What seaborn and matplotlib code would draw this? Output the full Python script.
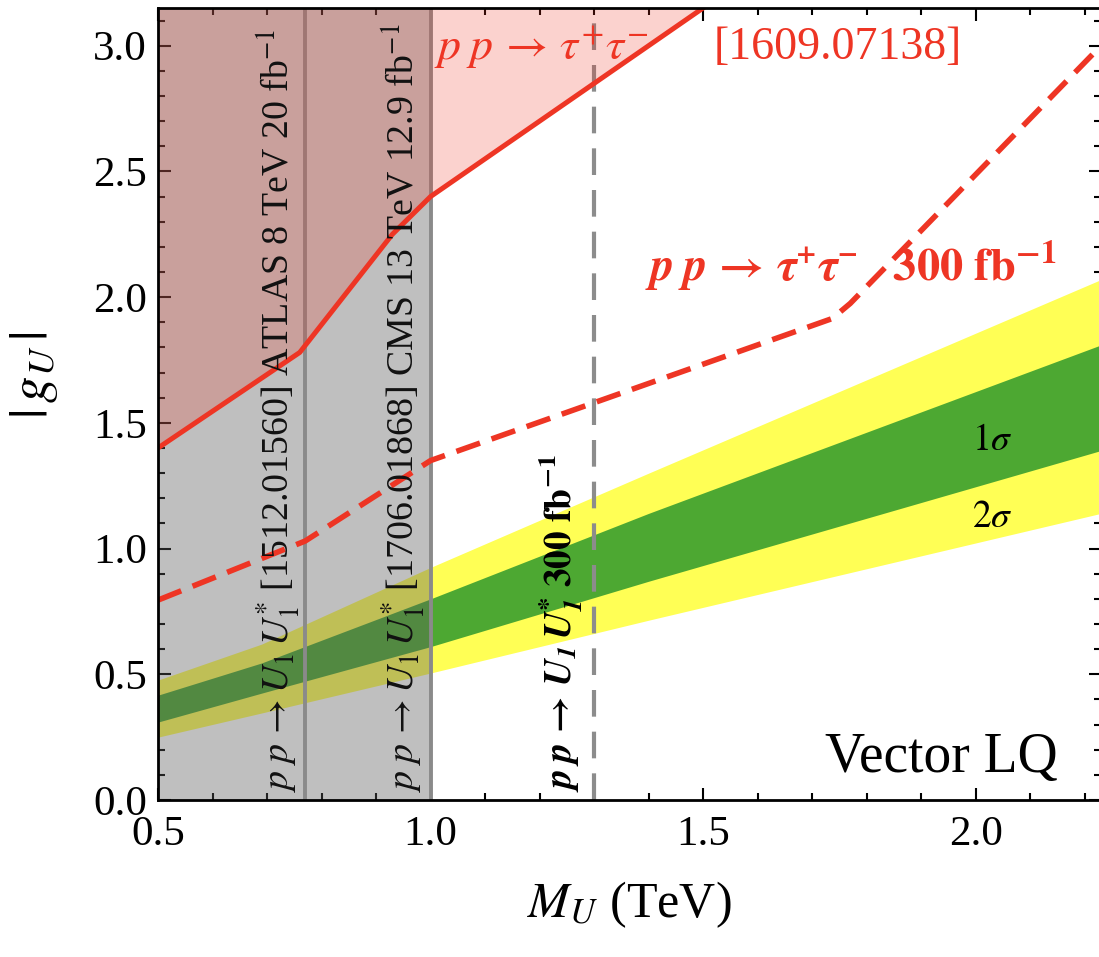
import matplotlib
matplotlib.use("Agg")
import matplotlib.pyplot as plt
import seaborn as sns
from matplotlib.ticker import MultipleLocator, FormatStrFormatter

# pp -> tau tau bound [1609.07138] (solid red)
tau_mass = [0.5, 0.76, 0.93, 1.0, 1.5, 1.6]
tau_g = [1.40, 1.78, 2.25, 2.40, 3.15, 3.30]

# pp -> tau tau projection 300 fb^-1 (dashed red)
tau300_mass = [0.5, 0.77, 1.0, 1.3, 1.737, 1.77, 2.23]
tau300_g = [0.795, 1.03, 1.35, 1.58, 1.915, 1.975, 3.0]

# preferred bands
band_mass = [0.5, 0.69, 1.0, 1.4, 2.23]
band_2s_hi = [0.477, 0.62, 0.925, 1.30, 2.07]
band_1s_hi = [0.417, 0.545, 0.80, 1.14, 1.81]
band_1s_lo = [0.31, 0.425, 0.61, 0.87, 1.39]
band_2s_lo = [0.25, 0.346, 0.505, 0.715, 1.14]

# pair production limits (TeV)
atlas_mass = 0.77
cms_mass = 1.0
hl_mass = 1.3

x_min, x_max = 0.5, 2.23
y_min, y_max = 0.0, 3.15

RED = "#ee3524"

sns.set_theme(style="ticks")
plt.rcParams["font.family"] = ["Liberation Serif", "DejaVu Serif"]
plt.rcParams["mathtext.fontset"] = "stix"
plt.rcParams["text.color"] = "black"
plt.rcParams["axes.labelcolor"] = "black"

fig = plt.figure(figsize=(10.99, 9.57), dpi=100)
ax = fig.add_axes([158 / 1099, 157 / 957, 943 / 1099, 792 / 957])

# bands
ax.fill_between(band_mass, band_2s_lo, band_2s_hi, color="#ffff55", lw=0, zorder=1)
ax.fill_between(band_mass, band_1s_lo, band_1s_hi, color="#4da832", lw=0, zorder=1.1)

# excluded by pair production
ax.axvspan(x_min, cms_mass, color="#5a5a5a", alpha=0.39, lw=0, zorder=2)
for m in (atlas_mass, cms_mass):
    ax.axvline(m, color="#8a8a8a", lw=2.8, zorder=2.1)
ax.axvline(hl_mass, color="#8c8c8c", lw=3, linestyle=(0, (6.4, 3.6)), zorder=2.1)

# tau tau excluded region
ax.fill_between(tau_mass, tau_g, 3.4, color=RED, alpha=0.22, lw=0, zorder=2.5)

sns.lineplot(x=tau_mass, y=tau_g, ax=ax, color=RED, linewidth=3.6,
             estimator=None, sort=False, zorder=4)
sns.lineplot(x=tau300_mass, y=tau300_g, ax=ax, color=RED, linewidth=4,
             linestyle=(0, (4.5, 2.2)), estimator=None, sort=False, zorder=4)

# labels in the plot
ax.text(1.006, 2.99, r"$p\;p\,\rightarrow\,\tau^{+}\tau^{-}$", color=RED,
        fontsize=33, ha="left", va="center", zorder=5)
ax.text(1.52, 2.99, "[1609.07138]", color=RED, fontsize=33,
        ha="left", va="center", zorder=5)
ax.text(1.394, 2.12,
        r"$\mathbfit{p\;p}\,\mathbf{\rightarrow}\,\mathbfit{\tau^{+}\tau^{-}}$"
        r"$\ \ \ \mathbf{300\ fb^{-1}}$",
        color=RED, fontsize=33.5, ha="left", va="center", zorder=5)
ax.text(1.994, 1.43, r"$1\sigma$", fontsize=27, ha="left", va="center", zorder=5)
ax.text(1.994, 1.124, r"$2\sigma$", fontsize=27, ha="left", va="center", zorder=5)
ax.text(1.724, 0.111, "Vector LQ", fontsize=40, ha="left", va="baseline", zorder=5)

ax.text(0.764, 0.03,
        r"$p\;p\,\rightarrow U_1\,U_1^{*}$ [1512.01560] ATLAS 8 TeV 20 fb$^{-1}$",
        rotation=90, fontsize=27.3, color="#111111", ha="right", va="bottom", zorder=5)
ax.text(0.994, 0.03,
        r"$p\;p\,\rightarrow U_1\,U_1^{*}$ [1706.01868] CMS 13 TeV 12.9 fb$^{-1}$",
        rotation=90, fontsize=27.3, color="#111111", ha="right", va="bottom", zorder=5)
ax.text(1.284, 0.03,
        r"$\mathbfit{p\;p}\,\mathbf{\rightarrow}\,\mathbfit{U_1\,U_1^{*}}$ $\mathbf{300\ fb^{-1}}$",
        rotation=90, fontsize=27, color="black", ha="right", va="bottom", zorder=5)

ax.set_xlim(x_min, x_max)
ax.set_ylim(y_min, y_max)
ax.xaxis.set_major_locator(MultipleLocator(0.5))
ax.xaxis.set_minor_locator(MultipleLocator(0.1))
ax.yaxis.set_major_locator(MultipleLocator(0.5))
ax.yaxis.set_minor_locator(MultipleLocator(0.1))
ax.xaxis.set_major_formatter(FormatStrFormatter("%.1f"))
ax.yaxis.set_major_formatter(FormatStrFormatter("%.1f"))
ax.tick_params(which="both", direction="in", top=True, right=True,
               width=1.5, colors="black", labelsize=31, zorder=6)
ax.tick_params(which="major", length=9)
ax.tick_params(which="minor", length=5)
ax.tick_params(axis="y", pad=8)
ax.tick_params(axis="x", pad=11)
for side in ("left", "bottom", "top"):
    ax.spines[side].set_linewidth(2)
    ax.spines[side].set_color("black")
    ax.spines[side].set_zorder(6)
ax.spines["right"].set_visible(False)

ax.set_xlabel(r"$M_U$ (TeV)", fontsize=36)
ax.set_ylabel(r"$|\,g_U\,|$", fontsize=38)
ax.xaxis.set_label_coords(0.50, -0.10)
ax.yaxis.set_label_coords(-0.104, 0.537)

fig.savefig("out.png", dpi=100)
